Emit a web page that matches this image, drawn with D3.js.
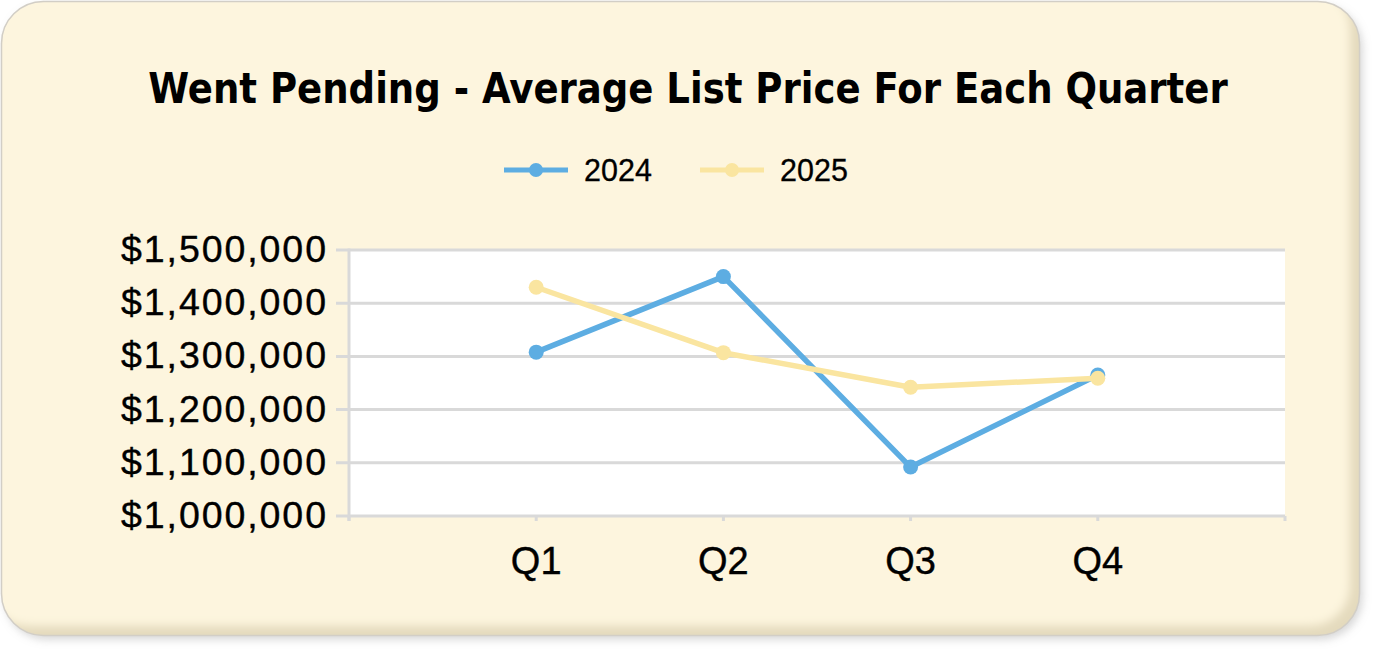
<!DOCTYPE html>
<html>
<head>
<meta charset="utf-8">
<script src="https://cdn.jsdelivr.net/npm/d3@7"></script>
<style>
  body { margin: 0; background: #ffffff; }
  svg { display: block; }
</style>
</head>
<body>
<div id="chart-area"></div>
<script>
var quarters = ['Q1', 'Q2', 'Q3', 'Q4'];
var seriesNames = ['2024', '2025'];
var values2024 = [1308000, 1450000, 1092000, 1265000];
var values2025 = [1430000, 1307000, 1242000, 1259000];
var yTicks = [1000000, 1100000, 1200000, 1300000, 1400000, 1500000];

var colors = {'2024': '#5dade2', '2025': '#fae5a0'};

var svg = d3.select("#chart-area").append("svg")
    .attr("width", 1376)
    .attr("height", 651)

var defs = svg.append('defs')
defs.append('filter').attr('id', 'shadow')
    .attr('x', '-5%').attr('y', '-5%').attr('width', '110%').attr('height', '115%')
    .append('feDropShadow')
    .attr('dx', 3).attr('dy', 4).attr('stdDeviation', 4)
    .attr('flood-color', '#9a9a9a').attr('flood-opacity', 0.4)
defs.append('filter').attr('id', 'soft')
    .attr('x', '-5%').attr('y', '-5%').attr('width', '110%').attr('height', '115%')
    .append('feGaussianBlur').attr('stdDeviation', 5)
defs.append('clipPath').attr('id', 'panelClip')
    .append('rect')
    .attr('x', 1.5).attr('y', 1.5)
    .attr('width', 1358).attr('height', 634)
    .attr('rx', 42)

// panel
svg.append('rect')
    .attr('x', 1.5).attr('y', 1.5)
    .attr('width', 1358).attr('height', 634)
    .attr('rx', 42)
    .attr('fill', '#e4dabd')
    .attr('filter', 'url(#shadow)')
svg.append('g')
    .attr('clip-path', 'url(#panelClip)')
    .append('rect')
    .attr('x', -12).attr('y', -12)
    .attr('width', 1362).attr('height', 638)
    .attr('rx', 40)
    .attr('fill', '#fdf5de')
    .attr('filter', 'url(#soft)')
svg.append('rect')
    .attr('x', 1.5).attr('y', 1.5)
    .attr('width', 1358).attr('height', 634)
    .attr('rx', 42)
    .attr('fill', 'none')
    .attr('stroke', '#d2cec6')
    .attr('stroke-width', 1.5)

// title, squeezed horizontally to the reference width
var title = svg.append('text')
    .attr('x', 0)
    .attr('y', 0)
    .attr('text-anchor', 'middle')
    .attr('font-family', 'DejaVu Sans')
    .attr('font-weight', 'bold')
    .attr('font-size', 43)
    .attr('fill', '#000')
    .text('Went Pending - Average List Price For Each Quarter')
var tw = title.node().getComputedTextLength()
title.attr('transform', 'translate(688,103) scale(' + (1080 / tw) + ',1)')

// legend
var legend = svg.selectAll('.legend')
    .data(seriesNames)
    .enter()
    .append('g')
    .attr('transform', (d, i) => 'translate(' + (504 + i * 196) + ',170)')
legend.append('line')
    .attr('x1', 0).attr('x2', 64)
    .attr('stroke', (d) => colors[d])
    .attr('stroke-width', 5)
legend.append('circle')
    .attr('cx', 32).attr('r', 7)
    .attr('fill', (d) => colors[d])
legend.append('text')
    .attr('x', 80).attr('y', 10.5)
    .attr('font-family', 'Liberation Sans, Arial, sans-serif')
    .attr('font-size', 30.5)
    .attr('stroke', '#000').attr('stroke-width', 0.3)
    .text((d) => d)

var x = d3.scalePoint()
    .domain(quarters)
    .range([349, 1285])
    .padding(1)

var y = d3.scaleLinear()
    .domain([1000000, 1500000])
    .range([516, 250])

// plot background
svg.append('rect')
    .attr('x', 349).attr('y', 250)
    .attr('width', 1285 - 349).attr('height', 516 - 250)
    .attr('fill', '#ffffff')

// grid lines
svg.selectAll('.grid')
    .data(yTicks)
    .enter()
    .append('line')
    .attr('x1', 336).attr('x2', 1285)
    .attr('y1', (d) => y(d)).attr('y2', (d) => y(d))
    .attr('stroke', '#d9d9d9')
    .attr('stroke-width', 3)

// y axis line
svg.append('line')
    .attr('x1', 349).attr('x2', 349)
    .attr('y1', 248.5).attr('y2', 521)
    .attr('stroke', '#d9d9d9')
    .attr('stroke-width', 3)

// x ticks
var xTickPos = [349].concat(quarters.map((q) => x(q))).concat([1285])
svg.selectAll('.xtick')
    .data(xTickPos)
    .enter()
    .append('line')
    .attr('x1', (d) => d).attr('x2', (d) => d)
    .attr('y1', 516).attr('y2', 521)
    .attr('stroke', '#d9d9d9')
    .attr('stroke-width', 3)

var fmt = d3.format('$,')
svg.selectAll('.ylabel')
    .data(yTicks)
    .enter()
    .append('text')
    .attr('x', 326)
    .attr('y', (d) => y(d) + 12)
    .attr('text-anchor', 'end')
    .attr('font-family', 'Liberation Sans, Arial, sans-serif')
    .attr('font-size', 37.5)
    .attr('stroke', '#000').attr('stroke-width', 0.4)
    .attr('textLength', 205)
    .attr('lengthAdjust', 'spacing')
    .text((d) => fmt(d))

svg.selectAll('.xlabel')
    .data(quarters)
    .enter()
    .append('text')
    .attr('x', (d) => x(d))
    .attr('y', 574)
    .attr('text-anchor', 'middle')
    .attr('font-family', 'Liberation Sans, Arial, sans-serif')
    .attr('font-size', 38)
    .attr('stroke', '#000').attr('stroke-width', 0.4)
    .text((d) => d)

var line = d3.line()
    .x((d, i) => x(quarters[i]))
    .y((d) => y(d))

var series = [values2024, values2025]
series.forEach((vals, s) => {
    var c = colors[seriesNames[s]]
    svg.append('path')
        .attr('d', line(vals))
        .attr('fill', 'none')
        .attr('stroke', c)
        .attr('stroke-width', 5.5)
        .attr('stroke-linejoin', 'round')
    svg.selectAll('.pt' + s)
        .data(vals)
        .enter()
        .append('circle')
        .attr('cx', (d, i) => x(quarters[i]))
        .attr('cy', (d) => y(d))
        .attr('r', 7.5)
        .attr('fill', c)
})
</script>
</body>
</html>
